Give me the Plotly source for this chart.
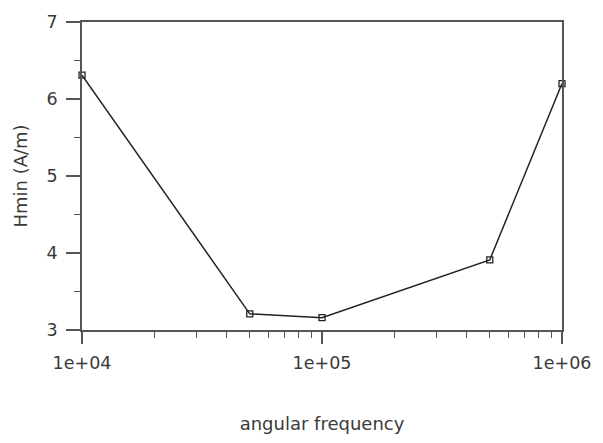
import plotly.graph_objects as go

freq = [1e4, 5e4, 1e5, 5e5, 1e6]
hmin = [6.31, 3.21, 3.16, 3.91, 6.2]
x_tick_vals = [1e4, 1e5, 1e6]
x_tick_text = ["1e+04", "1e+05", "1e+06"]
x_minor_vals = [k * 10 ** e for e in (4, 5) for k in range(2, 10)]
y_tick_vals = [3, 4, 5, 6, 7]

AX = "#555555"
TXT = "#3a3a3a"
FONT = "DejaVu Sans"

fig = go.Figure()
fig.add_trace(go.Scatter(
    x=freq, y=hmin, mode="lines+markers",
    line=dict(color="#222222", width=1.5),
    marker=dict(symbol="square-open", size=6, color="#222222", line=dict(width=1.3)),
    showlegend=False, cliponaxis=False,
))

fig.update_layout(
    width=603, height=443,
    margin=dict(l=82, r=32, t=17, b=102),
    paper_bgcolor="white", plot_bgcolor="white",
    font=dict(family=FONT, color=TXT, size=17),
    xaxis=dict(
        type="log", range=[4, 6],
        tickvals=x_tick_vals, ticktext=x_tick_text,
        ticks="outside", ticklen=12, tickwidth=1.5, tickcolor=AX,
        minor=dict(tickvals=x_minor_vals, ticks="outside", ticklen=6, tickwidth=1.2, tickcolor=AX, showgrid=False),
        showline=True, linecolor=AX, linewidth=1.6, mirror=True,
        showgrid=False, zeroline=False,
        ticklabelstandoff=4,
        tickfont=dict(size=17.5, color=TXT),
        title=dict(text="angular frequency", font=dict(size=18, color=TXT), standoff=46),
    ),
    yaxis=dict(
        range=[3, 7],
        tickvals=y_tick_vals,
        ticks="outside", ticklen=14, tickwidth=1.5, tickcolor=AX,
        minor=dict(dtick=0.5, ticks="outside", ticklen=6, tickwidth=1.2, tickcolor=AX, showgrid=False),
        showline=True, linecolor=AX, linewidth=1.6, mirror=True,
        showgrid=False, zeroline=False,
        ticklabelstandoff=5,
        tickfont=dict(size=17.5, color=TXT),
        title=dict(text="Hmin (A/m)", font=dict(size=18, color=TXT), standoff=14),
    ),
)

# axis lines extend slightly past the plot corner
fig.add_shape(type="line", xref="x domain", yref="y domain", x0=0, x1=0, y0=-0.035, y1=0,
              line=dict(color=AX, width=1.6))
fig.add_shape(type="line", xref="x domain", yref="y domain", x0=-0.029, x1=0, y0=0, y1=0,
              line=dict(color=AX, width=1.6))

fig.write_html("out.html")
